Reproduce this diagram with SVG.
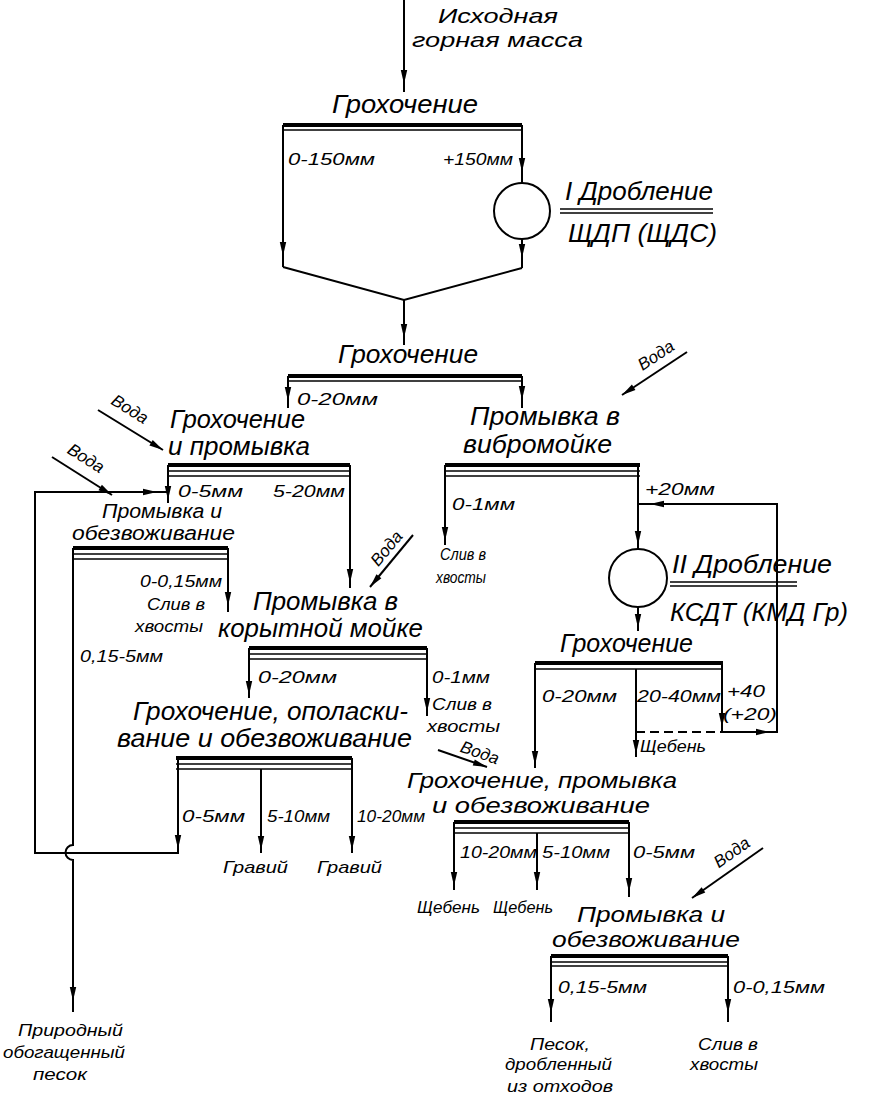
<svg xmlns="http://www.w3.org/2000/svg" xmlns:xlink="http://www.w3.org/1999/xlink" width="869" height="1095" viewBox="0 0 869 1095">
<style>
text{font-family:"Liberation Sans","DejaVu Sans",sans-serif;font-style:italic;fill:#000}
.t{font-size:25px}
.t2{font-size:22px}
.m{font-size:20px}
.s{font-size:17px}
.xs{font-size:16px}
line,polyline,path.c{stroke:#000;stroke-width:2;fill:none}
.bk{stroke-width:4}
.bn{stroke-width:1.5}
.dash{stroke-dasharray:9 5}
circle{fill:none;stroke:#000;stroke-width:2}
</style>
<defs>
<path id="ah" d="M0,0 L-3.2,-14 L3.2,-14 Z" fill="#000"/>
</defs>
<rect width="869" height="1095" fill="#fff"/>

<g id="input">
<text class="t2" font-size="21" x="438" y="23" textLength="120" lengthAdjust="spacingAndGlyphs" style="font-size:21px">Исходная</text>
<text class="t2" x="412" y="47" textLength="171" lengthAdjust="spacingAndGlyphs" style="font-size:21px">горная масса</text>
</g>

<g id="screen1">
<text class="t" x="332" y="113" textLength="146" lengthAdjust="spacingAndGlyphs">Грохочение</text>
<line class="bk" x1="283" y1="125" x2="522" y2="125"/>
<line class="bn" x1="283" y1="130" x2="522" y2="130"/>
<text class="s" x="288" y="165" textLength="87" lengthAdjust="spacingAndGlyphs">0-150мм</text>
<text class="s" x="443" y="165" textLength="70" lengthAdjust="spacingAndGlyphs">+150мм</text>
</g>

<g id="crusher1">
<circle cx="522" cy="211" r="28"/>
<text class="t" x="565" y="200" textLength="148" lengthAdjust="spacingAndGlyphs">I Дробление</text>
<line class="bn" x1="560" y1="209" x2="713" y2="209"/>
<line class="bn" x1="560" y1="213" x2="713" y2="213"/>
<text class="t" x="568" y="242" textLength="149" lengthAdjust="spacingAndGlyphs">ЩДП (ЩДС)</text>
</g>

<g id="screen2">
<text class="t" x="338" y="363" textLength="140" lengthAdjust="spacingAndGlyphs">Грохочение</text>
<line class="bk" x1="288" y1="376" x2="522" y2="376"/>
<line class="bn" x1="288" y1="381" x2="522" y2="381"/>
<text class="s" x="297" y="405" textLength="81" lengthAdjust="spacingAndGlyphs">0-20мм</text>
</g>

<g id="screen-wash">
<text class="t" x="170" y="428" textLength="135" lengthAdjust="spacingAndGlyphs">Грохочение</text>
<text class="t" x="168" y="455" textLength="142" lengthAdjust="spacingAndGlyphs">и промывка</text>
<line class="bk" x1="168" y1="465" x2="350" y2="465"/>
<line class="bn" x1="168" y1="471" x2="350" y2="471"/>
<line class="bn" x1="168" y1="476" x2="350" y2="476"/>
<text class="s" x="178" y="497" textLength="65" lengthAdjust="spacingAndGlyphs">0-5мм</text>
<text class="s" x="273" y="497" textLength="72" lengthAdjust="spacingAndGlyphs">5-20мм</text>
</g>

<g id="vibro-wash">
<text class="t" x="470" y="425" textLength="150" lengthAdjust="spacingAndGlyphs">Промывка в</text>
<text class="t" x="463" y="453" textLength="149" lengthAdjust="spacingAndGlyphs">вибромойке</text>
<line class="bk" x1="445" y1="465" x2="640" y2="465"/>
<line class="bn" x1="445" y1="471" x2="640" y2="471"/>
<line class="bn" x1="445" y1="476" x2="640" y2="476"/>
<text class="s" x="452" y="510" textLength="63" lengthAdjust="spacingAndGlyphs">0-1мм</text>
<text class="s" x="645" y="495" textLength="70" lengthAdjust="spacingAndGlyphs">+20мм</text>
<text class="xs" x="440" y="560" textLength="46" lengthAdjust="spacingAndGlyphs">Слив в</text>
<text class="xs" x="436" y="583" textLength="50" lengthAdjust="spacingAndGlyphs">хвосты</text>
</g>

<g id="wash-dewater-small">
<text class="m" x="102" y="518" textLength="120" lengthAdjust="spacingAndGlyphs">Промывка и</text>
<text class="m" x="72" y="540" textLength="163" lengthAdjust="spacingAndGlyphs">обезвоживание</text>
<line class="bk" x1="73" y1="548" x2="228" y2="548"/>
<line class="bn" x1="73" y1="554" x2="228" y2="554"/>
<line class="bn" x1="73" y1="559" x2="228" y2="559"/>
<text class="s" x="140" y="587" textLength="82" lengthAdjust="spacingAndGlyphs">0-0,15мм</text>
<text class="xs" x="147" y="610" textLength="58" lengthAdjust="spacingAndGlyphs">Слив в</text>
<text class="xs" x="135" y="632" textLength="68" lengthAdjust="spacingAndGlyphs">хвосты</text>
<text class="s" x="80" y="662" textLength="83" lengthAdjust="spacingAndGlyphs">0,15-5мм</text>
</g>

<g id="crusher2">
<circle cx="638" cy="578" r="29"/>
<text class="t" x="672" y="573" textLength="160" lengthAdjust="spacingAndGlyphs">II Дробление</text>
<line class="bn" x1="670" y1="582" x2="797" y2="582"/>
<line class="bn" x1="670" y1="586" x2="797" y2="586"/>
<text class="t" x="670" y="621" textLength="178" lengthAdjust="spacingAndGlyphs">КСДТ (КМД Гр)</text>
</g>

<g id="trough-wash">
<text class="t" x="253" y="610" textLength="145" lengthAdjust="spacingAndGlyphs">Промывка в</text>
<text class="t" x="218" y="637" textLength="205" lengthAdjust="spacingAndGlyphs">корытной мойке</text>
<line class="bk" x1="249" y1="648" x2="427" y2="648"/>
<line class="bn" x1="249" y1="654" x2="427" y2="654"/>
<line class="bn" x1="249" y1="659" x2="427" y2="659"/>
<text class="s" x="258" y="683" textLength="79" lengthAdjust="spacingAndGlyphs">0-20мм</text>
<text class="s" x="432" y="683" textLength="58" lengthAdjust="spacingAndGlyphs">0-1мм</text>
<text class="xs" x="432" y="710" textLength="60" lengthAdjust="spacingAndGlyphs">Слив в</text>
<text class="xs" x="427" y="732" textLength="73" lengthAdjust="spacingAndGlyphs">хвосты</text>
</g>

<g id="screen3">
<text class="t" x="560" y="652" textLength="133" lengthAdjust="spacingAndGlyphs">Грохочение</text>
<line class="bk" x1="535" y1="663" x2="723" y2="663"/>
<line class="bn" x1="535" y1="669" x2="723" y2="669"/>
<text class="s" x="542" y="702" textLength="75" lengthAdjust="spacingAndGlyphs">0-20мм</text>
<text class="s" x="637" y="702" textLength="84" lengthAdjust="spacingAndGlyphs">20-40мм</text>
<text class="s" x="727" y="697" textLength="38" lengthAdjust="spacingAndGlyphs">+40</text>
<text class="s" x="723" y="720" textLength="54" lengthAdjust="spacingAndGlyphs">(+20)</text>
<text class="xs" x="640" y="752" textLength="66" lengthAdjust="spacingAndGlyphs">Щебень</text>
</g>

<g id="rinse-screen">
<text class="t" x="133" y="720" textLength="275" lengthAdjust="spacingAndGlyphs">Грохочение, ополаски-</text>
<text class="t" x="117" y="747" textLength="295" lengthAdjust="spacingAndGlyphs">вание и обезвоживание</text>
<line class="bk" x1="176" y1="758" x2="352" y2="758"/>
<line class="bn" x1="176" y1="764" x2="352" y2="764"/>
<line class="bn" x1="176" y1="769" x2="352" y2="769"/>
<text class="s" x="182" y="822" textLength="63" lengthAdjust="spacingAndGlyphs">0-5мм</text>
<text class="s" x="267" y="822" textLength="63" lengthAdjust="spacingAndGlyphs">5-10мм</text>
<text class="s" x="357" y="822" textLength="68" lengthAdjust="spacingAndGlyphs">10-20мм</text>
<text class="s" x="223" y="873" textLength="65" lengthAdjust="spacingAndGlyphs">Гравий</text>
<text class="s" x="317" y="873" textLength="65" lengthAdjust="spacingAndGlyphs">Гравий</text>
</g>

<g id="screen-wash-dewater">
<text class="t2" x="407" y="788" textLength="270" lengthAdjust="spacingAndGlyphs">Грохочение, промывка</text>
<text class="t2" x="432" y="813" textLength="218" lengthAdjust="spacingAndGlyphs">и обезвоживание</text>
<line class="bk" x1="454" y1="822" x2="629" y2="822"/>
<line class="bn" x1="454" y1="828" x2="629" y2="828"/>
<line class="bn" x1="454" y1="833" x2="629" y2="833"/>
<text class="s" x="460" y="858" textLength="77" lengthAdjust="spacingAndGlyphs">10-20мм</text>
<text class="s" x="542" y="858" textLength="68" lengthAdjust="spacingAndGlyphs">5-10мм</text>
<text class="s" x="633" y="858" textLength="62" lengthAdjust="spacingAndGlyphs">0-5мм</text>
<text class="xs" x="417" y="913" textLength="63" lengthAdjust="spacingAndGlyphs">Щебень</text>
<text class="xs" x="493" y="913" textLength="60" lengthAdjust="spacingAndGlyphs">Щебень</text>
</g>

<g id="wash-dewater-bottom">
<text class="t2" x="577" y="922" textLength="148" lengthAdjust="spacingAndGlyphs">Промывка и</text>
<text class="t2" x="552" y="947" textLength="188" lengthAdjust="spacingAndGlyphs">обезвоживание</text>
<line class="bk" x1="551" y1="956" x2="728" y2="956"/>
<line class="bn" x1="551" y1="962" x2="728" y2="962"/>
<line class="bn" x1="551" y1="966" x2="728" y2="966"/>
<text class="s" x="558" y="993" textLength="89" lengthAdjust="spacingAndGlyphs">0,15-5мм</text>
<text class="s" x="733" y="993" textLength="92" lengthAdjust="spacingAndGlyphs">0-0,15мм</text>
<text class="s" x="530" y="1050" textLength="60" lengthAdjust="spacingAndGlyphs">Песок,</text>
<text class="s" x="505" y="1070" textLength="107" lengthAdjust="spacingAndGlyphs">дробленный</text>
<text class="s" x="507" y="1092" textLength="106" lengthAdjust="spacingAndGlyphs">из отходов</text>
<text class="s" x="698" y="1050" textLength="60" lengthAdjust="spacingAndGlyphs">Слив в</text>
<text class="s" x="690" y="1070" textLength="68" lengthAdjust="spacingAndGlyphs">хвосты</text>
</g>

<g id="natural-sand">
<text class="s" x="18" y="1036" textLength="105" lengthAdjust="spacingAndGlyphs">Природный</text>
<text class="s" x="3" y="1058" textLength="122" lengthAdjust="spacingAndGlyphs">обогащенный</text>
<text class="s" x="33" y="1080" textLength="54" lengthAdjust="spacingAndGlyphs">песок</text>
</g>

<g id="water">
<text class="s" transform="translate(127,414) rotate(31.6)" text-anchor="middle">Вода</text>
<text class="s" transform="translate(83,463) rotate(32.3)" text-anchor="middle">Вода</text>
<text class="s" transform="translate(391,552) rotate(-50.4)" text-anchor="middle">Вода</text>
<text class="s" transform="translate(659,360) rotate(-33.5)" text-anchor="middle">Вода</text>
<text class="s" transform="translate(478,758) rotate(19.1)" text-anchor="middle">Вода</text>
<text class="s" transform="translate(735,857) rotate(-35.2)" text-anchor="middle">Вода</text>
</g>

<g id="connectors">
<line x1="404" y1="0" x2="404" y2="92"/>
<use xlink:href="#ah" transform="translate(404,84)"/>
<line x1="283" y1="125" x2="283" y2="267"/>
<use xlink:href="#ah" transform="translate(283,256)"/>
<line x1="522" y1="125" x2="522" y2="183"/>
<use xlink:href="#ah" transform="translate(522,172)"/>
<line x1="522" y1="239" x2="522" y2="268"/>
<use xlink:href="#ah" transform="translate(522,258)"/>
<polyline points="283,267 404,300 522,268"/>
<line x1="404" y1="300" x2="404" y2="345"/>
<use xlink:href="#ah" transform="translate(404,338)"/>
<line x1="288" y1="376" x2="288" y2="408"/>
<use xlink:href="#ah" transform="translate(288,401)"/>
<line x1="522" y1="376" x2="522" y2="408"/>
<use xlink:href="#ah" transform="translate(522,400)"/>
<line x1="168" y1="465" x2="168" y2="503"/>
<use xlink:href="#ah" transform="translate(168,500)"/>
<line x1="350" y1="465" x2="350" y2="588"/>
<use xlink:href="#ah" transform="translate(350,583)"/>
<polyline points="178,758 178,853 35,853 35,492 168,492"/>
<use xlink:href="#ah" transform="translate(157,492) rotate(-90)"/>
<use xlink:href="#ah" transform="translate(178,849)"/>
<line x1="228" y1="548" x2="228" y2="612"/>
<use xlink:href="#ah" transform="translate(228,606)"/>
<path class="c" d="M73,548 L73,845 A7,7 0 0 0 73,860 L73,1012"/>
<use xlink:href="#ah" transform="translate(73,1001)"/>
<line x1="249" y1="648" x2="249" y2="698"/>
<use xlink:href="#ah" transform="translate(249,695)"/>
<line x1="427" y1="648" x2="427" y2="716"/>
<use xlink:href="#ah" transform="translate(427,712)"/>
<line x1="261" y1="769" x2="261" y2="853"/>
<use xlink:href="#ah" transform="translate(261,850)"/>
<line x1="352" y1="758" x2="352" y2="853"/>
<use xlink:href="#ah" transform="translate(352,850)"/>
<line x1="445" y1="465" x2="445" y2="545"/>
<use xlink:href="#ah" transform="translate(445,541)"/>
<line x1="638" y1="465" x2="638" y2="549"/>
<use xlink:href="#ah" transform="translate(638,545)"/>
<polyline points="722,732 777,732 777,504 638,504"/>
<use xlink:href="#ah" transform="translate(650,504) rotate(90)"/>
<use xlink:href="#ah" transform="translate(770,732) rotate(-90)"/>
<line class="dash" x1="636" y1="732" x2="722" y2="732"/>
<line x1="638" y1="607" x2="638" y2="631"/>
<use xlink:href="#ah" transform="translate(638,628)"/>
<line x1="535" y1="663" x2="535" y2="768"/>
<use xlink:href="#ah" transform="translate(535,765)"/>
<line x1="636" y1="669" x2="636" y2="757"/>
<use xlink:href="#ah" transform="translate(636,754)"/>
<line x1="722" y1="663" x2="722" y2="732"/>
<use xlink:href="#ah" transform="translate(722,727)"/>
<line x1="454" y1="822" x2="454" y2="890"/>
<use xlink:href="#ah" transform="translate(454,886)"/>
<line x1="537" y1="833" x2="537" y2="890"/>
<use xlink:href="#ah" transform="translate(537,886)"/>
<line x1="629" y1="822" x2="629" y2="897"/>
<use xlink:href="#ah" transform="translate(629,892)"/>
<line x1="551" y1="956" x2="551" y2="1022"/>
<use xlink:href="#ah" transform="translate(551,1013)"/>
<line x1="728" y1="956" x2="728" y2="1022"/>
<use xlink:href="#ah" transform="translate(728,1013)"/>
<line x1="98" y1="410" x2="163" y2="450"/>
<use xlink:href="#ah" transform="translate(163,450) rotate(-58.4)"/>
<line x1="52" y1="457" x2="112" y2="495"/>
<use xlink:href="#ah" transform="translate(112,495) rotate(-57.7)"/>
<line x1="413" y1="535" x2="370" y2="587"/>
<use xlink:href="#ah" transform="translate(370,587) rotate(39.6)"/>
<line x1="687" y1="352" x2="622" y2="395"/>
<use xlink:href="#ah" transform="translate(622,395) rotate(56.5)"/>
<line x1="438" y1="750" x2="487" y2="767"/>
<use xlink:href="#ah" transform="translate(487,767) rotate(-70.9)"/>
<line x1="763" y1="848" x2="692" y2="898"/>
<use xlink:href="#ah" transform="translate(692,898) rotate(54.8)"/>
</g>
</svg>
